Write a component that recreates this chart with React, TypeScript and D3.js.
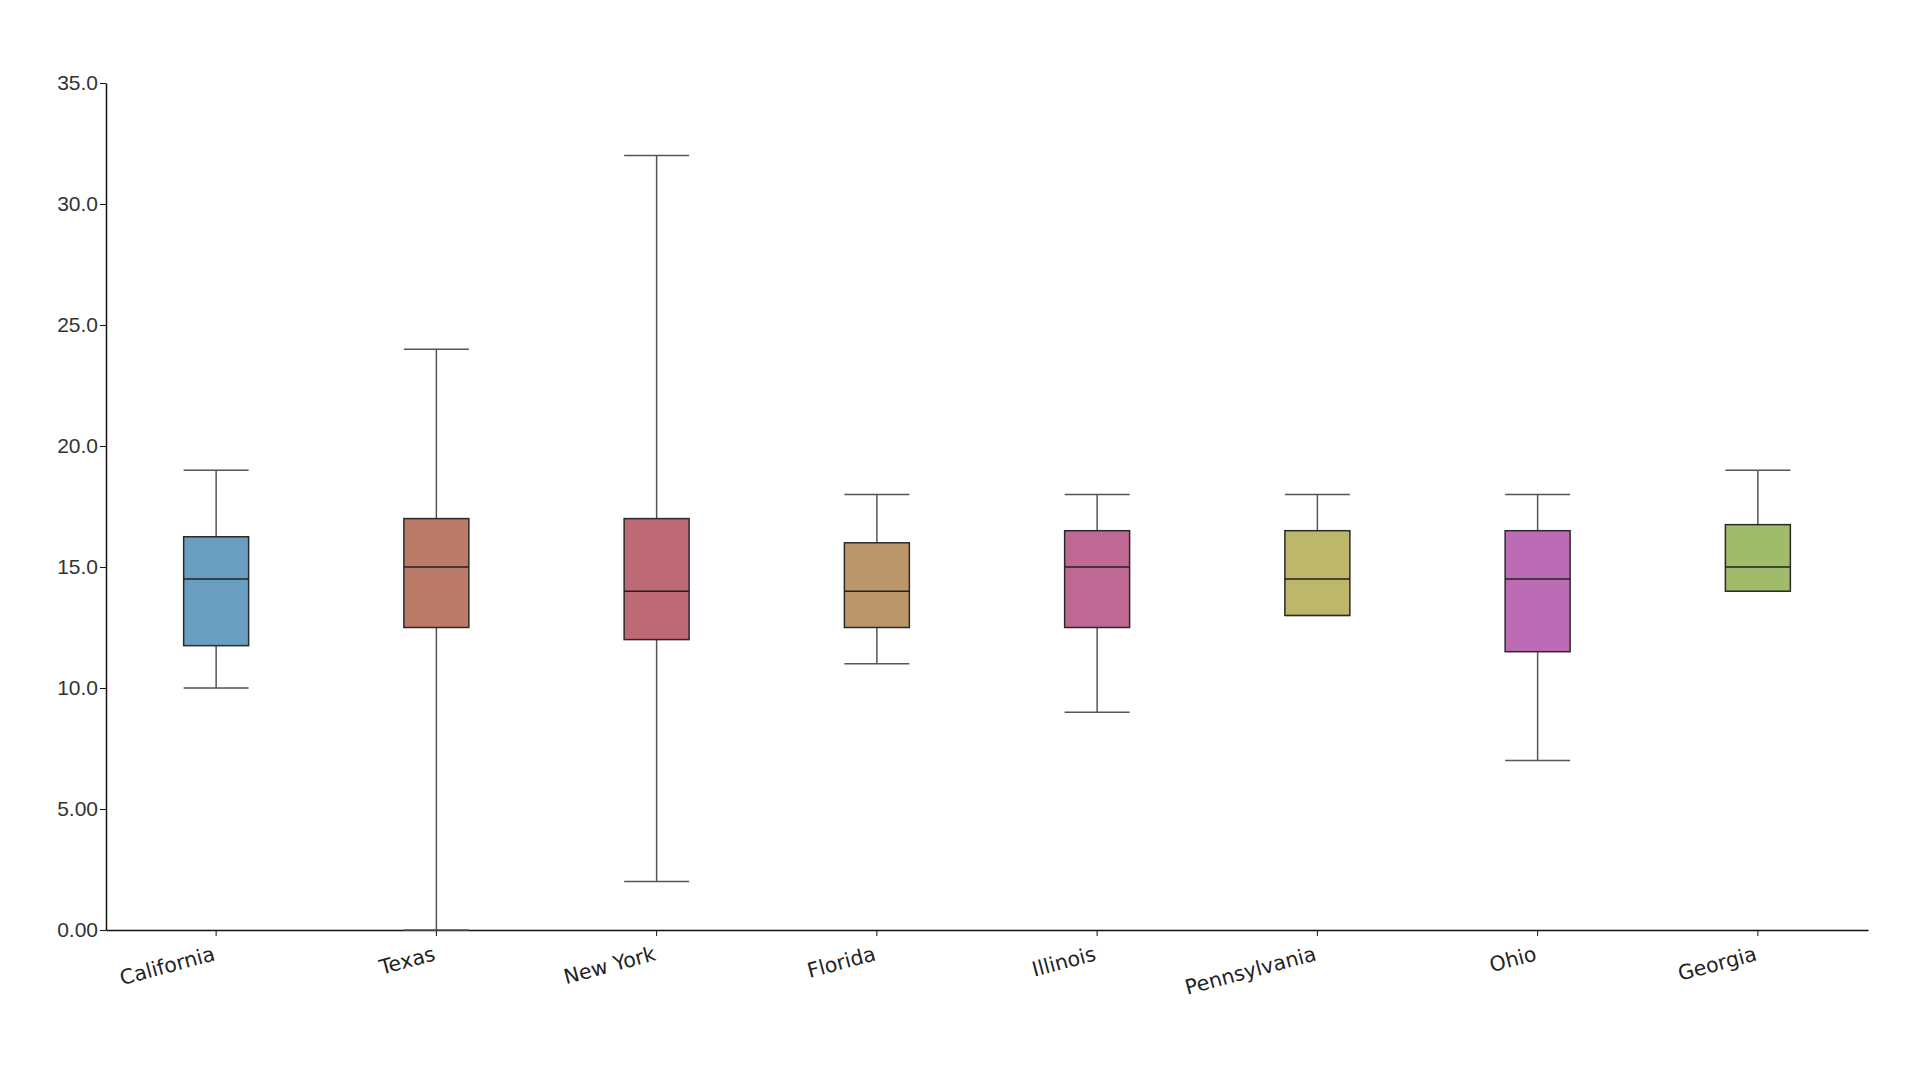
import {useEffect, useRef} from "react"
import * as d3 from "d3"

// box stats per state
const states = ["California", "Texas", "New York", "Florida", "Illinois", "Pennsylvania", "Ohio", "Georgia"]
const mins = [10, 0, 2, 11, 9, 13, 7, 14]
const q1s = [11.75, 12.5, 12, 12.5, 12.5, 13, 11.5, 14]
const medians = [14.5, 15, 14, 14, 15, 14.5, 14.5, 15]
const q3s = [16.25, 17, 17, 16, 16.5, 16.5, 16.5, 16.75]
const maxs = [19, 24, 32, 18, 18, 18, 18, 19]
const colors = ["#6a9ec0", "#bc7b69", "#be6976", "#bb976b", "#bd6993", "#bdb76b", "#bc6bb5", "#a0bb69"]
const yTicks = [0, 5, 10, 15, 20, 25, 30, 35]

export default function App() {
  const width = 1920
  const height = 1080
  const margin = {top: 83, right: 52, bottom: 150, left: 106}
  const innerWidth = width - margin.left - margin.right
  const innerHeight = height - margin.top - margin.bottom

  const ref = useRef<SVGSVGElement>(null)

  useEffect(() => {
    const svg = d3.select(ref.current)
    svg.selectAll("*").remove()

    const x = d3.scaleBand().domain(states).range([0, innerWidth]).padding(0)
    const y = d3.scaleLinear().domain([0, 35]).range([innerHeight, 0])
    const boxW = x.step() * 0.295

    const g = svg.append("g").attr("transform", `translate(${margin.left},${margin.top})`)

    /**
     * y axis
     */
    const yAxis = g
      .append("g")
      .call(d3.axisLeft(y).tickValues(yTicks).tickFormat(d3.format(".3r")).tickSizeOuter(0))
    yAxis.select(".domain").attr("stroke", "#111").attr("stroke-width", 1.5)
    yAxis.selectAll(".tick line").attr("stroke", "#111")
    yAxis
      .selectAll(".tick text")
      .attr("fill", "#333")
      .style("font-family", "'Liberation Sans', Arial, sans-serif")
      .style("font-size", "21px")
      .attr("x", -8)

    /**
     * x axis
     */
    const xAxis = g
      .append("g")
      .attr("transform", `translate(0,${innerHeight})`)
      .call(d3.axisBottom(x).tickSizeOuter(0))
    xAxis.select(".domain").attr("stroke", "#111").attr("stroke-width", 1.5)
    xAxis.selectAll(".tick line").attr("stroke", "#111")
    xAxis
      .selectAll(".tick text")
      .attr("fill", "#222")
      .style("font-family", "'DejaVu Sans', sans-serif")
      .style("font-size", "20.5px")
      .attr("text-anchor", "end")
      .attr("x", 0)
      .attr("y", 0)
      .attr("dy", 0)
      .attr("transform", "translate(0,30) rotate(-15)")

    /**
     * boxes
     */
    const rows = states.map((s, i) => ({
      state: s,
      min: mins[i],
      q1: q1s[i],
      median: medians[i],
      q3: q3s[i],
      max: maxs[i],
      color: colors[i],
    }))

    const box = g
      .selectAll("g.box")
      .data(rows)
      .join("g")
      .attr("class", "box")
      .attr("transform", (d) => `translate(${x(d.state)! + x.bandwidth() / 2},0)`)

    // whisker stems
    box
      .append("line")
      .attr("y1", (d) => y(d.max))
      .attr("y2", (d) => y(d.q3))
      .attr("stroke", "#555")
      .attr("stroke-width", 1.5)
    box
      .append("line")
      .attr("y1", (d) => y(d.q1))
      .attr("y2", (d) => y(d.min))
      .attr("stroke", "#555")
      .attr("stroke-width", 1.5)

    // caps
    box
      .selectAll("line.cap")
      .data((d) => [d.min, d.max])
      .join("line")
      .attr("class", "cap")
      .attr("x1", -boxW / 2)
      .attr("x2", boxW / 2)
      .attr("y1", (v) => y(v))
      .attr("y2", (v) => y(v))
      .attr("stroke", "#555")
      .attr("stroke-width", 1.5)

    box
      .append("rect")
      .attr("x", -boxW / 2)
      .attr("width", boxW)
      .attr("y", (d) => y(d.q3))
      .attr("height", (d) => y(d.q1) - y(d.q3))
      .attr("fill", (d) => d.color)
      .attr("stroke", "#2a2a2a")
      .attr("stroke-width", 1.5)

    box
      .append("line")
      .attr("x1", -boxW / 2)
      .attr("x2", boxW / 2)
      .attr("y1", (d) => y(d.median))
      .attr("y2", (d) => y(d.median))
      .attr("stroke", "#222")
      .attr("stroke-width", 1.5)
  }, [])

  return (
    <svg
      ref={ref}
      width={width}
      height={height}
      style={{position: "absolute", left: 0, top: 0, background: "#fff"}}
    ></svg>
  )
}
